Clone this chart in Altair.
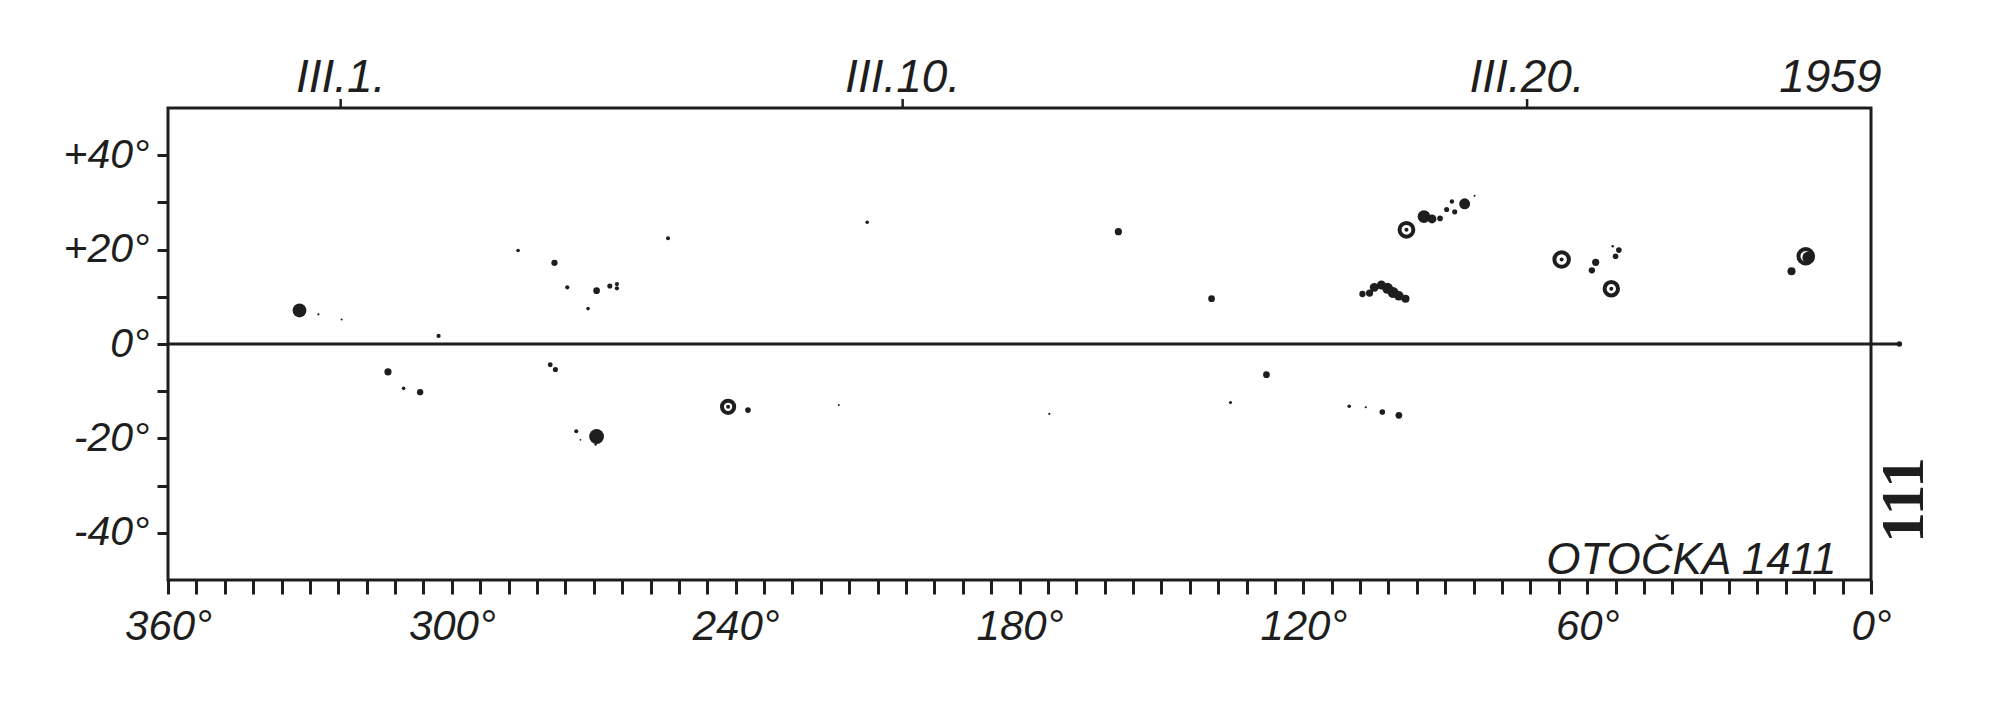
import altair as alt
import pandas as pd

# ---- data (Carrington longitude, heliographic latitude) ----
dot_lon = [332.2, 328.2, 323.3, 302.8, 286.0, 278.3, 275.6, 271.2, 269.4, 266.6, 265.1, 265.1,
           254.3, 212.2, 159.1, 139.4,
           94.5, 92.8, 91.1, 89.7, 88.6, 88.0, 85.9, 83.8,
           107.5, 106.0, 105.0, 103.5, 102.2, 101.0, 99.8, 98.4,
           58.2, 59.0, 53.3, 54.6, 54.0, 16.8, 13.2,
           313.5, 310.2, 306.7, 279.2, 278.1, 273.7, 269.4, 269.6, 272.8,
           237.4, 218.2, 173.7, 135.4, 127.8, 110.3, 106.8, 103.3, 99.8]
dot_lat = [7.1, 6.3, 5.2, 1.7, 19.8, 17.2, 12.0, 7.5, 11.3, 12.3, 12.7, 11.8,
           22.4, 25.8, 23.8, 9.6,
           27.0, 26.5, 26.6, 28.5, 30.2, 28.0, 29.7, 31.4,
           10.6, 10.8, 12.0, 12.5, 11.8, 10.9, 10.2, 9.6,
           17.3, 15.6, 19.9, 20.7, 18.6, 15.4, 18.3,
           -5.9, -9.4, -10.2, -4.4, -5.4, -18.5, -19.6, -21.3, -20.3,
           -14.0, -12.9, -14.8, -12.4, -6.5, -13.2, -13.4, -14.4, -15.1]
dot_size = [190, 5, 4, 18, 13, 40, 18, 13, 45, 26, 18, 18,
            16, 13, 52, 45,
            160, 80, 32, 26, 20, 26, 120, 4,
            40, 52, 80, 80, 120, 120, 90, 65,
            52, 40, 32, 6, 32, 65, 150,
            52, 13, 40, 24, 26, 16, 220, 6, 3,
            32, 4, 5, 10, 45, 13, 5, 32, 45]

ring_lon = [98.2, 65.4, 54.9, 241.6, 13.8]
ring_lat = [24.2, 17.9, 11.7, -13.3, 18.6]
ring_size = [190, 210, 180, 150, 210]

equator_lon = [360, -6]

x_ticks = list(range(0, 361, 6))
y_ticks = [-40, -30, -20, -10, 0, 10, 20, 30, 40]

date_lon = [323.5, 204.7, 72.7]
date_text = ["III.1.", "III.10.", "III.20."]
year_lon = [8.6]
year_text = ["1959"]
rotation_lon = [7.3]
rotation_text = ["OTOČKA 1411"]
page_text = ["111"]

FONT = "Liberation Sans Narrow, Liberation Sans, sans-serif"
INK = "#1e1e1e"

xscale = alt.Scale(domain=[360, 0], nice=False, zero=False)
yscale = alt.Scale(domain=[-50, 50], nice=False, zero=False)

xaxis = alt.Axis(values=x_ticks,
                 labelExpr="datum.value % 60 == 0 ? datum.value + '°' : ''",
                 tickSize=14, tickWidth=3, tickColor=INK, domain=False, grid=False,
                 labelFont=FONT, labelFontSize=42, labelFontStyle="italic",
                 labelColor=INK, labelPadding=12, labelOverlap=False, labelFlush=False,
                 title=None)
yaxis = alt.Axis(values=y_ticks,
                 labelExpr="datum.value % 20 == 0 ? (datum.value > 0 ? '+' + datum.value + '°' : datum.value + '°') : ''",
                 tickSize=11, tickWidth=3, tickColor=INK, domain=False, grid=False,
                 labelFont=FONT, labelFontSize=41, labelFontStyle="italic",
                 labelColor=INK, labelPadding=8, labelOverlap=False, labelFlush=False,
                 title=None)

X = alt.X("lon:Q", scale=xscale, axis=xaxis)
Y = alt.Y("lat:Q", scale=yscale, axis=yaxis)

dots = alt.Chart(pd.DataFrame({"lon": dot_lon, "lat": dot_lat, "size": dot_size})).mark_circle(
    color=INK, opacity=1).encode(x=X, y=Y, size=alt.Size("size:Q", scale=None, legend=None))

rings_df = pd.DataFrame({"lon": ring_lon, "lat": ring_lat, "size": ring_size})
rings = alt.Chart(rings_df).mark_point(
    shape="circle", filled=False, color=INK, strokeWidth=4, opacity=1).encode(
    x=X, y=Y, size=alt.Size("size:Q", scale=None, legend=None))
ring_cores = alt.Chart(rings_df).mark_circle(color=INK, opacity=1, size=16).encode(x=X, y=Y)

equator = alt.Chart(pd.DataFrame({"lon": [equator_lon[0]], "lon2": [equator_lon[1]], "lat": [0]})).mark_rule(
    color=INK, strokeWidth=3).encode(x=X, x2="lon2:Q", y=Y)
equator_end = alt.Chart(pd.DataFrame({"lon": [equator_lon[1]], "lat": [0]})).mark_circle(
    color=INK, opacity=1, size=30).encode(x=X, y=Y)

date_df = pd.DataFrame({"lon": date_lon, "label": date_text})
date_ticks = alt.Chart(date_df).mark_rule(color=INK, strokeWidth=2.5).encode(
    x=X, y=alt.value(0), y2=alt.value(-9))
date_labels = alt.Chart(date_df).mark_text(
    font=FONT, fontSize=46, fontStyle="italic", color=INK, baseline="alphabetic", align="center").encode(
    x=X, y=alt.value(-16), text="label:N")
year_label = alt.Chart(pd.DataFrame({"lon": year_lon, "label": year_text})).mark_text(
    font=FONT, fontSize=46, fontStyle="italic", color=INK, baseline="alphabetic", align="center").encode(
    x=X, y=alt.value(-16), text="label:N")
rotation_label = alt.Chart(pd.DataFrame({"lon": rotation_lon, "label": rotation_text})).mark_text(
    font=FONT, fontSize=44, fontStyle="italic", color=INK, baseline="alphabetic", align="right").encode(
    x=X, y=alt.value(466), text="label:N")
page_label = alt.Chart(pd.DataFrame({"label": page_text})).mark_text(
    font="Liberation Serif, DejaVu Serif, serif", fontSize=62, fontWeight="bold", color=INK,
    angle=270, baseline="middle", align="center").encode(
    x=alt.value(1736), y=alt.value(392), text="label:N")

chart = alt.layer(
    equator, equator_end, dots, rings, ring_cores, date_ticks, date_labels, year_label,
    rotation_label, page_label
).properties(
    width=1703, height=472,
    autosize=alt.AutoSizeParams(type="none"),
    padding={"left": 160, "top": 100, "right": 100, "bottom": 120},
    background="white",
).configure_view(stroke=INK, strokeWidth=3)

chart.save("out.html", embed_options={"renderer": "svg", "actions": False})
